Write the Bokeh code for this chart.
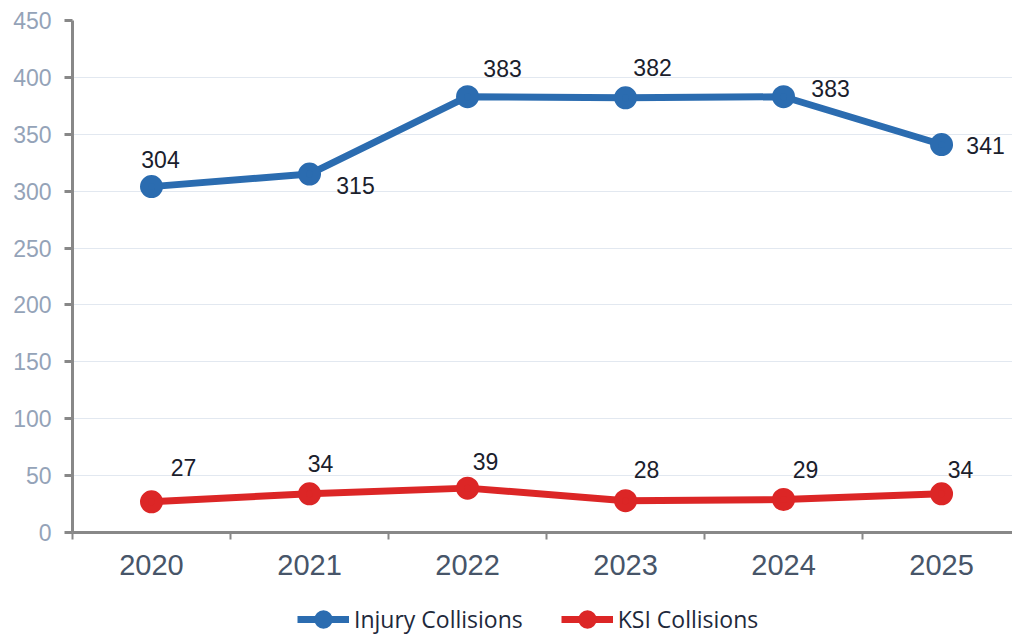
from bokeh.plotting import figure
from bokeh.layouts import column
from bokeh.models import ColumnDataSource, FixedTicker, Legend, LegendItem
from bokeh.core.properties import value
from bokeh.embed import file_html
from bokeh.resources import INLINE

years = ["2020", "2021", "2022", "2023", "2024", "2025"]
injury = [304, 315, 383, 382, 383, 341]
ksi = [27, 34, 39, 28, 29, 34]
y_ticks = [0, 50, 100, 150, 200, 250, 300, 350, 400, 450]

# label offsets (screen px) - style only
inj_dx = [9, 46, 35, 27, 47, 44]
inj_dy = [-27, 11, -28, -30, -8, 1]
ksi_dx = [32, 11, 18, 21, 22, 19]
ksi_dy = [-34, -30, -27, -31, -30, -24]

BLUE = "#2b6cb0"
RED = "#dc2626"

xs = list(range(len(years)))

p = figure(frame_width=940, frame_height=512, x_range=(-0.5, 5.449), y_range=(0, 450),
           output_backend="svg", toolbar_location=None,
           min_border_left=72, min_border_right=0, min_border_top=20, min_border_bottom=58)
p.outline_line_color = None
p.background_fill_color = "white"

src_i = ColumnDataSource(dict(x=xs, y=injury, t=[str(v) for v in injury], dx=inj_dx, dy=inj_dy))
src_k = ColumnDataSource(dict(x=xs, y=ksi, t=[str(v) for v in ksi], dx=ksi_dx, dy=ksi_dy))

def draw_series(fig, src, color):
    ln = fig.line("x", "y", source=src, line_color=color, line_width=7)
    sc = fig.scatter("x", "y", source=src, size=15, fill_color=color, line_color=color, line_width=8)
    return ln, sc

l1, c1 = draw_series(p, src_i, BLUE)
l2, c2 = draw_series(p, src_k, RED)

for s in (src_i, src_k):
    p.text("x", "y", text="t", source=s, x_offset="dx", y_offset="dy",
           text_align="center", text_baseline="middle", text_font_size="23px",
           text_font=value("Liberation Sans"), text_color="#1a202c")

# axes
p.xaxis.ticker = FixedTicker(ticks=xs, minor_ticks=[-0.5, 0.5, 1.5, 2.5, 3.5, 4.5, 5.5])
p.xaxis.major_label_overrides = {i: y for i, y in enumerate(years)}
p.xaxis.major_tick_out = 0
p.xaxis.major_tick_in = 0
p.xaxis.minor_tick_out = 7
p.xaxis.minor_tick_in = 0
p.xaxis.minor_tick_line_color = "#888888"
p.xaxis.minor_tick_line_width = 2
p.xaxis.axis_line_color = "#888888"
p.xaxis.axis_line_width = 3
p.xaxis.major_label_text_font = "Liberation Sans"
p.xaxis.major_label_text_font_size = "29px"
p.xaxis.major_label_text_color = "#475569"
p.xaxis.major_label_standoff = 15

p.yaxis.ticker = FixedTicker(ticks=y_ticks)
p.yaxis.minor_tick_line_color = None
p.yaxis.major_tick_out = 8
p.yaxis.major_tick_in = 0
p.yaxis.major_tick_line_color = "#888888"
p.yaxis.major_tick_line_width = 3
p.yaxis.axis_line_color = "#888888"
p.yaxis.axis_line_width = 3
p.yaxis.major_label_text_font = "Liberation Sans"
p.yaxis.major_label_text_font_size = "23px"
p.yaxis.major_label_text_color = "#94a3b8"
p.yaxis.major_label_standoff = 13

p.xgrid.grid_line_color = None
p.ygrid.ticker = FixedTicker(ticks=y_ticks)
p.ygrid.grid_line_color = "#e2e8f0"
p.ygrid.grid_line_width = 1

# legend strip below the chart (same series, drawn out of view, only the legend shows)
pl = figure(frame_width=940, frame_height=45, x_range=(-0.5, 5.449), y_range=(1000, 1001),
            output_backend="svg", toolbar_location=None,
            min_border_left=72, min_border_right=0, min_border_top=0, min_border_bottom=0)
pl.axis.visible = False
pl.grid.visible = False
pl.outline_line_color = None
ll1, lc1 = draw_series(pl, src_i, BLUE)
ll2, lc2 = draw_series(pl, src_k, RED)

legend = Legend(items=[LegendItem(label="Injury Collisions", renderers=[ll1, lc1]),
                       LegendItem(label="KSI Collisions", renderers=[ll2, lc2])],
                orientation="horizontal", location=(225, 0),
                glyph_width=52, glyph_height=26, label_text_font="Open Sans",
                label_text_font_size="23px", label_text_color="#1e293b",
                spacing=38, label_standoff=5, padding=0, margin=0,
                border_line_color=None, background_fill_alpha=0)
pl.add_layout(legend, "center")

layout = column(p, pl, spacing=0)
open("out.html", "w").write(file_html(layout, INLINE))
